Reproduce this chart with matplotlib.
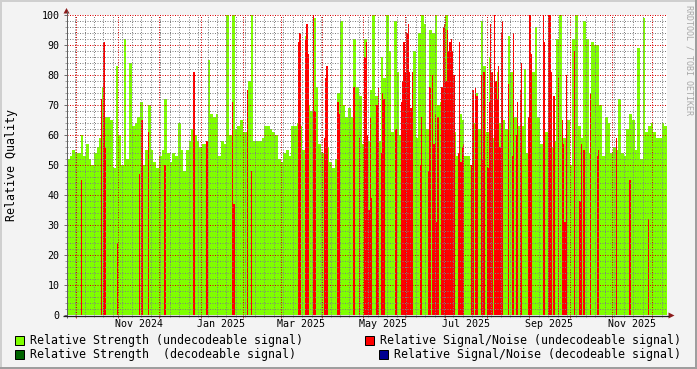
import numpy as np
import pandas as pd
import matplotlib
matplotlib.use("Agg")
import matplotlib.pyplot as plt
import matplotlib.dates as mdates
from matplotlib.ticker import MultipleLocator, NullFormatter
from matplotlib.patches import Rectangle, Polygon

# ---------------- data ----------------
START = "2024-09-24"      # left edge of the time axis
SPAN_DAYS = 444           # width of the time axis in days
STEP_DAYS = 2             # spacing of the strength samples

# Relative Strength (undecodeable signal), one value per STEP_DAYS
strength_undecodeable = [
    52, 53, 55, 54, 54, 60, 53, 57, 52, 50, 54, 56, 59, 76, 66, 66, 65, 49, 83, 60,
    50, 92, 52, 84, 63, 64, 66, 71, 50, 55, 70, 55, 51, 49, 53, 55, 72,
    54, 51, 54, 53, 64, 55, 48, 55, 58, 62, 60, 58, 56, 57, 57, 85, 67, 66, 67, 53,
    58, 57, 100, 60, 100, 62, 63, 65, 61, 61, 78, 100, 58, 58, 58, 59, 63,
    63, 62, 61, 60, 52, 51, 54, 55, 53, 63, 63, 64, 63, 55, 93, 70, 68, 99, 76, 57,
    54, 58, 56, 51, 49, 52, 74, 98, 70, 66, 69, 66, 92, 76, 73, 57, 92,
    58, 75, 100, 73, 58, 86, 79, 100, 88, 61, 98, 81, 60, 76, 53, 61, 61, 88, 59, 94,
    100, 97, 62, 95, 94, 100, 70, 71, 61, 100, 76, 58, 61, 53, 67, 65, 53,
    53, 50, 64, 74, 62, 98, 83, 61, 86, 59, 64, 81, 64, 65, 62, 93, 81, 66, 66, 63,
    63, 82, 54, 59, 81, 96, 66, 57, 57, 61, 61, 56, 58, 92, 100, 59, 59, 65,
    50, 92, 100, 63, 59, 98, 92, 54, 91, 90, 90, 70, 53, 66, 64, 54, 56, 55, 72, 54,
    53, 62, 67, 65, 55, 89, 52, 99, 61, 63, 64, 61, 59, 59, 64, 63,
]

# Relative Signal/Noise (undecodeable signal): day offset from START and value
snr_day = [
    10, 25, 27, 28, 37, 53, 55, 60, 72, 93, 94, 103, 122, 123, 133, 136,
    171, 172, 176, 177, 178, 182, 183, 190, 191, 192, 200, 201, 212, 216, 220, 221,
    222, 223, 224, 225, 229, 230, 232, 233, 234, 243, 247, 248, 249, 250, 251, 252,
    253, 254, 255, 261, 262, 267, 268, 270, 271, 272, 273, 274, 277, 278, 279, 280,
    281, 282, 283, 284, 285, 286, 289, 290, 291, 292, 293, 299, 300, 302, 303, 306,
    307, 308, 311, 312, 313, 314, 316, 317, 318, 319, 320, 321, 322, 326, 329, 330,
    332, 333, 335, 336, 341, 342, 343, 352, 353, 356, 357, 358, 360, 363, 366, 367,
    368, 369, 375, 379, 380, 382, 387, 392, 393, 406, 416, 430,
]
snr_undecodeable = [
    45, 72, 91, 56, 24, 47, 65, 61, 50, 81, 81, 58, 71, 37, 75, 48,
    91, 94, 92, 97, 87, 100, 68, 59, 79, 83, 71, 67, 76, 59, 86, 91,
    60, 35, 66, 39, 70, 76, 54, 74, 72, 62, 71, 78, 91, 81, 94, 97,
    81, 69, 81, 50, 66, 48, 76, 80, 57, 67, 31, 66, 76, 96, 97, 78,
    95, 88, 91, 92, 88, 80, 54, 91, 51, 56, 57, 50, 75, 76, 73, 80,
    52, 81, 49, 71, 97, 81, 100, 78, 72, 83, 56, 94, 98, 77, 53, 94,
    60, 71, 75, 84, 66, 100, 87, 100, 91, 100, 100, 81, 73, 79, 65, 57,
    31, 80, 88, 38, 57, 55, 74, 53, 55, 59, 45, 32,
]

x_tick_dates = ["2024-11-16", "2025-01-16", "2025-03-16", "2025-05-16",
                "2025-07-16", "2025-09-16", "2025-11-16"]
x_tick_labels = ["Nov 2024", "Jan 2025", "Mar 2025", "May 2025",
                 "Jul 2025", "Sep 2025", "Nov 2025"]

legend_labels = [
    "Relative Strength (undecodeable signal)",
    "Relative Signal/Noise (undecodeable signal)",
    "Relative Strength  (decodeable signal)",
    "Relative Signal/Noise (decodeable signal)",
]
legend_colors = ["#7FFF00", "#FF0000", "#006400", "#000090"]
y_label = "Relative Quality"
watermark = "RRDTOOL / TOBI OETIKER"

# ---------------- figure ----------------
W, H = 697, 369
plt.rcParams["font.family"] = ["DejaVu Sans Mono"]
fig = plt.figure(figsize=(W / 100, H / 100), dpi=100)
fig.patch.set_facecolor("#F3F3F3")

L, R, T, B = 67, 667, 15, 315
ax = fig.add_axes([L / W, 1 - B / H, (R - L) / W, (B - T) / H])
ax.set_facecolor("white")

x0 = mdates.datestr2num(START)
gx = x0 + STEP_DAYS * np.arange(len(strength_undecodeable))
ax.bar(gx, strength_undecodeable, width=STEP_DAYS, align="edge",
       color=legend_colors[0], linewidth=0, antialiased=False, zorder=1)
rx = x0 + np.asarray(snr_day, dtype=float)
ax.bar(rx, snr_undecodeable, width=1, align="edge",
       color=legend_colors[1], linewidth=0, antialiased=False, zorder=1.5)

ax.set_xlim(x0, x0 + SPAN_DAYS)
ax.set_ylim(0, 100)

ax.set_axisbelow(False)
ax.yaxis.set_major_locator(MultipleLocator(10))
ax.yaxis.set_minor_locator(MultipleLocator(2))
ax.xaxis.set_major_locator(mdates.MonthLocator())
ax.xaxis.set_minor_locator(mdates.WeekdayLocator(byweekday=mdates.MO))
ax.xaxis.set_major_formatter(NullFormatter())
ax.grid(which="minor", color=(0.5, 0.5, 0.5, 0.18), lw=0.72, ls=(0, (1, 1.5)))
ax.grid(which="major", color=(0.85, 0.0, 0.0, 0.22), lw=0.72, ls=(0, (1, 1.5)))
for s in ax.spines.values():
    s.set_visible(False)

ax.tick_params(axis="y", which="major", direction="out", length=2.2, width=0.72,
               color="#707070", pad=3.3, labelsize=7.2)
ax.tick_params(axis="y", which="minor", direction="out", length=1.4, width=0.72,
               color="#A0A0A0")
ax.tick_params(axis="x", which="major", direction="out", length=2.2, width=0.72,
               color="#D04040", labelbottom=False)
ax.tick_params(axis="x", which="minor", direction="out", length=1.4, width=0.72,
               color="#A0A0A0")

for d, lab in zip(x_tick_dates, x_tick_labels):
    ax.text(mdates.datestr2num(d), -0.03, lab, transform=ax.get_xaxis_transform(),
            ha="center", va="center", fontsize=7.2, color="black")

# ---------------- decorations in pixel space ----------------
ov = fig.add_axes([0, 0, 1, 1], zorder=5)
ov.set_xlim(0, W)
ov.set_ylim(H, 0)
ov.axis("off")
ov.patch.set_alpha(0)

# frame shading
ov.add_patch(Rectangle((0, 0), W, 2, color="#CFCFCF", lw=0))
ov.add_patch(Rectangle((0, 0), 2, H, color="#CFCFCF", lw=0))
ov.add_patch(Rectangle((0, H - 2), W, 2, color="#9E9E9E", lw=0))
ov.add_patch(Rectangle((W - 2, 0), 2, H, color="#9E9E9E", lw=0))

# axes with arrows
ov.plot([66.5, 66.5], [318, 11], color="#606060", lw=0.72, solid_capstyle="butt")
ov.plot([63, 669], [315.5, 315.5], color="#202020", lw=0.9, solid_capstyle="butt")
ov.add_patch(Polygon([(63.5, 13.5), (69.5, 13.5), (66.5, 8.0)], closed=True,
                     color="#8C1C1C", lw=0))
ov.add_patch(Polygon([(668.5, 312.5), (668.5, 318.5), (674.5, 315.5)], closed=True,
                     color="#8C1C1C", lw=0))

# y label and watermark
ov.text(12, 165, y_label, rotation=90, ha="center", va="center", fontsize=8.4,
        color="black")
ov.text(688.5, 5, watermark, rotation=270, ha="center", va="top", fontsize=6,
        color="#A8A8A8")

# legend
legend_pos = [(15, 336, 30), (365, 336, 380), (15, 350, 30), (379, 350, 394)]
for (bx, by, tx), lab, col in zip(legend_pos, legend_labels, legend_colors):
    ov.add_patch(Rectangle((bx, by), 9, 9, facecolor=col, edgecolor="black", lw=0.72))
    ov.text(tx, by + 4.8, lab, ha="left", va="center", fontsize=8.4, color="black")

fig.savefig("out.png", dpi=100, facecolor=fig.get_facecolor())
